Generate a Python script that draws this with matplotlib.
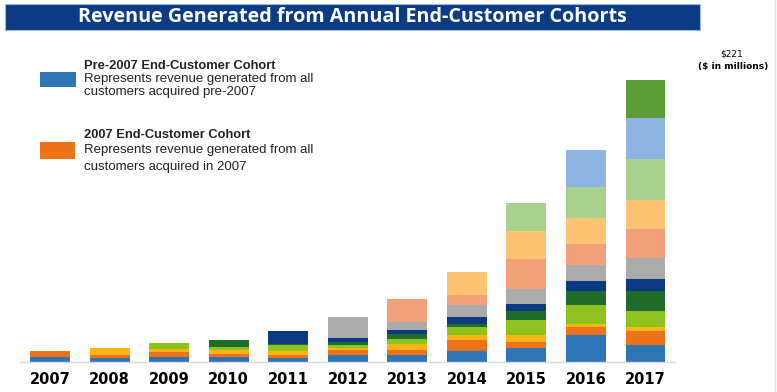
import numpy as np
import matplotlib
matplotlib.use("Agg")
import matplotlib.pyplot as plt
from matplotlib.patches import Rectangle

# Роки (осі X) і когорти клієнтів (знизу вгору)
years = ["2007", "2008", "2009", "2010", "2011", "2012",
         "2013", "2014", "2015", "2016", "2017"]
cohorts = ["Pre-2007", "2007", "2008", "2009", "2010", "2011",
           "2012", "2013", "2014", "2015", "2016", "2017"]

# Дохід по когортах, $ млн (оцінено з картинки)
pre2007 = [3.9, 3.1, 3.9, 3.9, 3.1, 5.3, 5.7, 8.4, 11.2, 21.0, 13.1]
c2007 = [4.5, 2.1, 3.9, 2.6, 2.1, 3.9, 3.9, 8.6, 4.5, 6.5, 11.0]
c2008 = [0, 5.7, 2.1, 2.6, 3.1, 2.1, 4.2, 3.9, 5.3, 2.6, 3.4]
c2009 = [0, 0, 4.9, 2.6, 4.7, 2.4, 3.9, 6.5, 11.8, 14.4, 12.6]
c2010 = [0, 0, 0, 5.7, 1.3, 2.1, 3.9, 2.6, 7.3, 11.2, 15.7]
c2011 = [0, 0, 0, 0, 9.7, 3.4, 3.1, 5.3, 5.7, 7.9, 8.9]
c2012 = [0, 0, 0, 0, 0, 15.7, 6.5, 9.2, 11.8, 12.3, 16.5]
c2013 = [0, 0, 0, 0, 0, 0, 18.3, 7.9, 22.8, 16.5, 22.8]
c2014 = [0, 0, 0, 0, 0, 0, 0, 18.3, 22.5, 20.2, 23.0]
c2015 = [0, 0, 0, 0, 0, 0, 0, 0, 22.0, 24.3, 32.0]
c2016 = [0, 0, 0, 0, 0, 0, 0, 0, 0, 29.3, 32.2]
c2017 = [0, 0, 0, 0, 0, 0, 0, 0, 0, 0, 29.8]

colors = ["#2E75B6", "#EE7219", "#FDB414", "#8DC21F", "#1E6B2A", "#0B3A82",
          "#ABABAB", "#F1A07A", "#FDC272", "#A9D18E", "#8EB4E3", "#5A9E35"]

series = [pre2007, c2007, c2008, c2009, c2010, c2011,
          c2012, c2013, c2014, c2015, c2016, c2017]

W, H = 777, 392
fig = plt.figure(figsize=(W / 100, H / 100), dpi=100)

# Заголовок у синій плашці
fig.patches.append(Rectangle((5 / W, 1 - 30 / H), 695 / W, 26 / H,
                             transform=fig.transFigure, facecolor="#0A3C86",
                             edgecolor="#9DB7DA", linewidth=0.8))
fig.text(352 / W, 1 - 17 / H, "Revenue Generated from Annual End-Customer Cohorts",
         ha="center", va="center", color="white", fontsize=14.2,
         fontweight="bold", family="Open Sans")

# тонка рамка праворуч, як на оригіналі
fig.lines.append(plt.Line2D([775 / W, 775 / W], [0, 1], transform=fig.transFigure,
                            color="#E3E3E3", linewidth=1))

# Осі під стовпчики
ax = fig.add_axes([20 / W, 30 / H, 655 / W, 282 / H])
x = np.arange(len(years))
bottom = np.zeros(len(years))
for vals, col in zip(series, colors):
    vals = np.array(vals)
    ax.bar(x, vals, width=0.67, bottom=bottom, color=col, linewidth=0)
    bottom += vals

ax.set_xlim(-0.504, 10.495)
ax.set_ylim(0, 221)
for s in ["top", "right", "left"]:
    ax.spines[s].set_visible(False)
ax.spines["bottom"].set_color("#D9D9E3")
ax.spines["bottom"].set_linewidth(1)
ax.set_yticks([])
ax.set_xticks(x)
ax.set_xticklabels(years, fontsize=10.5, fontweight="bold", family="DejaVu Sans")
ax.tick_params(axis="x", length=0, pad=7)

# Легенда вручну
fig.patches.append(Rectangle((40 / W, 1 - 87 / H), 36 / W, 15 / H,
                             transform=fig.transFigure, facecolor=colors[0]))
fig.patches.append(Rectangle((40 / W, 1 - 159 / H), 35 / W, 17 / H,
                             transform=fig.transFigure, facecolor=colors[1]))
txt = dict(ha="left", va="center", family="Liberation Sans", color="#222222")
fig.text(84 / W, 1 - 66 / H, "Pre-2007 End-Customer Cohort",
         fontsize=9.3, fontweight="bold", **txt)
fig.text(84 / W, 1 - 79 / H, "Represents revenue generated from all", fontsize=9.5, **txt)
fig.text(84 / W, 1 - 92 / H, "customers acquired pre-2007", fontsize=9.5, **txt)
fig.text(84 / W, 1 - 135 / H, "2007 End-Customer Cohort",
         fontsize=9.3, fontweight="bold", **txt)
fig.text(84 / W, 1 - 150 / H, "Represents revenue generated from all", fontsize=9.5, **txt)
fig.text(84 / W, 1 - 167 / H, "customers acquired in 2007", fontsize=9.5, **txt)

# Підпис суми
fig.text(732 / W, 1 - 54 / H, "$221", ha="center", va="center", fontsize=6.5)
fig.text(733 / W, 1 - 66 / H, "($ in millions)", ha="center", va="center",
         fontsize=6.5, fontweight="bold")

fig.savefig("out.png", dpi=100)
